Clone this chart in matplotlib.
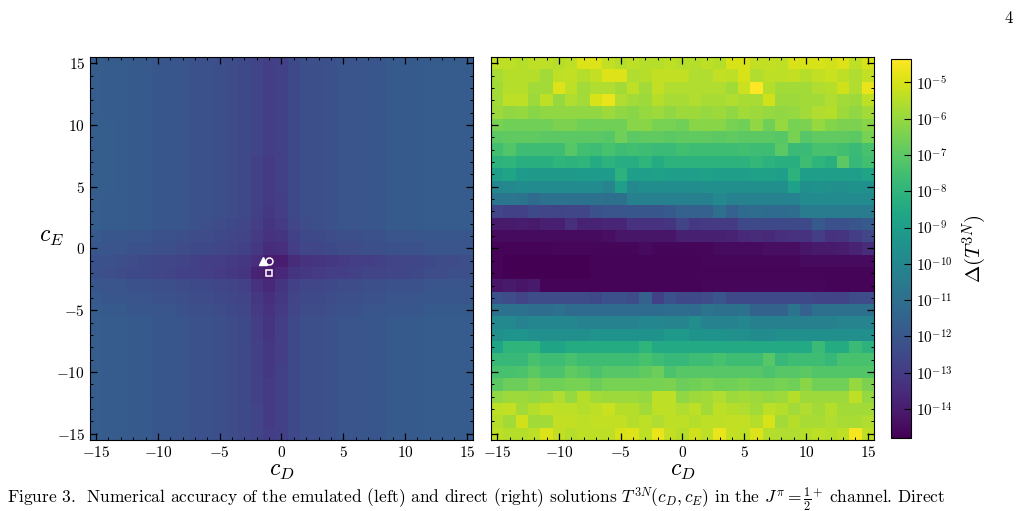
import numpy as np
import matplotlib
matplotlib.use("Agg")
import matplotlib.pyplot as plt
from matplotlib.colors import LogNorm
from matplotlib.ticker import MultipleLocator

plt.rcParams["font.family"] = "serif"
plt.rcParams["font.serif"] = ["cmr10", "DejaVu Serif"]
plt.rcParams["mathtext.fontset"] = "cm"
plt.rcParams["axes.formatter.use_mathtext"] = True

# grid of LEC values
c_D = list(range(-15, 16))
c_E = list(range(15, -16, -1))   # rows listed top-down

# log10 Delta(T^3N), emulated solutions (left), rows from c_E=15 to c_E=-15
left_log = [
    [-11.7,-11.8,-11.8,-11.9,-11.9,-12.0,-12.0,-12.1,-12.2,-12.2,-12.3,-12.4,-12.5,-12.7,-12.9,-12.8,-12.5,-12.3,-12.3,-12.2,-12.1,-12.1,-12.0,-12.0,-11.9,-11.9,-11.9,-11.8,-11.8,-11.8,-11.8],
    [-11.7,-11.8,-11.8,-11.9,-11.9,-12.0,-12.0,-12.1,-12.2,-12.2,-12.3,-12.4,-12.5,-12.7,-12.9,-12.8,-12.5,-12.3,-12.3,-12.2,-12.1,-12.1,-12.0,-12.0,-11.9,-11.9,-11.9,-11.8,-11.8,-11.8,-11.8],
    [-11.7,-11.8,-11.8,-11.9,-11.9,-12.0,-12.0,-12.1,-12.2,-12.2,-12.3,-12.4,-12.5,-12.7,-12.9,-12.8,-12.5,-12.3,-12.3,-12.2,-12.1,-12.1,-12.0,-12.0,-11.9,-11.9,-11.9,-11.8,-11.8,-11.8,-11.8],
    [-11.7,-11.8,-11.8,-11.9,-11.9,-12.0,-12.0,-12.1,-12.2,-12.2,-12.3,-12.4,-12.5,-12.7,-12.9,-12.8,-12.5,-12.3,-12.3,-12.2,-12.1,-12.1,-12.0,-12.0,-11.9,-11.9,-11.9,-11.8,-11.8,-11.8,-11.8],
    [-11.7,-11.8,-11.8,-11.9,-11.9,-12.0,-12.0,-12.1,-12.2,-12.2,-12.3,-12.4,-12.5,-12.7,-12.9,-12.8,-12.5,-12.3,-12.3,-12.2,-12.1,-12.1,-12.0,-12.0,-11.9,-11.9,-11.9,-11.8,-11.8,-11.8,-11.8],
    [-11.7,-11.7,-11.8,-11.9,-11.9,-12.0,-12.0,-12.1,-12.2,-12.2,-12.3,-12.4,-12.5,-12.7,-12.9,-12.8,-12.5,-12.3,-12.3,-12.2,-12.1,-12.1,-12.0,-12.0,-11.9,-11.9,-11.9,-11.8,-11.8,-11.8,-11.8],
    [-11.7,-11.7,-11.8,-11.9,-11.9,-12.0,-12.0,-12.1,-12.2,-12.2,-12.3,-12.4,-12.5,-12.7,-12.9,-12.8,-12.5,-12.3,-12.3,-12.2,-12.1,-12.1,-12.0,-12.0,-11.9,-11.9,-11.9,-11.8,-11.8,-11.8,-11.8],
    [-11.7,-11.7,-11.8,-11.9,-11.9,-12.0,-12.0,-12.1,-12.2,-12.2,-12.3,-12.4,-12.5,-12.7,-12.9,-12.8,-12.5,-12.3,-12.3,-12.2,-12.1,-12.1,-12.0,-12.0,-11.9,-11.9,-11.9,-11.8,-11.8,-11.8,-11.8],
    [-11.7,-11.7,-11.8,-11.9,-11.9,-12.0,-12.0,-12.1,-12.2,-12.2,-12.3,-12.4,-12.5,-12.8,-13.0,-12.8,-12.5,-12.3,-12.3,-12.2,-12.1,-12.1,-12.0,-12.0,-11.9,-11.9,-11.9,-11.8,-11.8,-11.8,-11.8],
    [-11.7,-11.7,-11.8,-11.9,-11.9,-12.0,-12.0,-12.1,-12.2,-12.2,-12.3,-12.4,-12.5,-12.8,-13.0,-12.8,-12.5,-12.3,-12.3,-12.2,-12.1,-12.1,-12.0,-12.0,-11.9,-11.9,-11.9,-11.8,-11.8,-11.8,-11.8],
    [-11.7,-11.7,-11.8,-11.9,-11.9,-12.0,-12.0,-12.1,-12.2,-12.2,-12.3,-12.4,-12.5,-12.8,-13.0,-12.8,-12.5,-12.3,-12.3,-12.2,-12.1,-12.1,-12.0,-12.0,-11.9,-11.9,-11.9,-11.8,-11.8,-11.8,-11.8],
    [-11.7,-11.8,-11.8,-11.9,-11.9,-12.0,-12.0,-12.1,-12.2,-12.2,-12.3,-12.4,-12.5,-12.8,-13.0,-12.9,-12.5,-12.3,-12.3,-12.2,-12.1,-12.1,-12.0,-12.0,-11.9,-11.9,-11.9,-11.8,-11.8,-11.8,-11.8],
    [-11.7,-11.8,-11.8,-11.9,-11.9,-12.0,-12.0,-12.1,-12.2,-12.2,-12.3,-12.4,-12.5,-12.8,-13.1,-12.9,-12.5,-12.3,-12.3,-12.2,-12.1,-12.1,-12.0,-12.0,-11.9,-11.9,-11.9,-11.8,-11.8,-11.8,-11.8],
    [-11.7,-11.8,-11.8,-11.9,-11.9,-12.0,-12.0,-12.1,-12.2,-12.3,-12.4,-12.5,-12.6,-12.9,-13.2,-13.0,-12.6,-12.4,-12.3,-12.2,-12.1,-12.1,-12.0,-12.0,-11.9,-11.9,-11.9,-11.8,-11.8,-11.8,-11.8],
    [-11.9,-12.0,-12.0,-12.1,-12.1,-12.2,-12.2,-12.3,-12.4,-12.4,-12.5,-12.6,-12.7,-13.0,-13.3,-13.2,-12.8,-12.5,-12.5,-12.4,-12.3,-12.3,-12.2,-12.2,-12.1,-12.1,-12.1,-12.0,-12.0,-12.0,-12.0],
    [-12.0,-12.1,-12.1,-12.2,-12.2,-12.3,-12.3,-12.4,-12.5,-12.5,-12.6,-12.7,-12.8,-13.1,-13.5,-13.4,-12.9,-12.6,-12.6,-12.5,-12.4,-12.4,-12.3,-12.3,-12.2,-12.2,-12.2,-12.1,-12.1,-12.1,-12.1],
    [-12.2,-12.2,-12.3,-12.4,-12.5,-12.6,-12.6,-12.7,-12.8,-12.9,-12.9,-13.0,-13.1,-13.4,-14.0,-14.0,-13.5,-13.3,-13.2,-13.1,-13.0,-12.9,-12.9,-12.8,-12.7,-12.6,-12.6,-12.5,-12.4,-12.4,-12.3],
    [-12.2,-12.3,-12.4,-12.5,-12.5,-12.6,-12.7,-12.8,-12.8,-12.9,-13.0,-13.1,-13.2,-13.8,-14.0,-13.6,-13.2,-13.1,-13.0,-12.9,-12.9,-12.8,-12.7,-12.7,-12.6,-12.6,-12.5,-12.4,-12.4,-12.3,-12.3],
    [-12.0,-12.1,-12.1,-12.2,-12.2,-12.3,-12.3,-12.4,-12.5,-12.5,-12.6,-12.7,-12.8,-13.3,-13.6,-13.2,-12.8,-12.6,-12.6,-12.5,-12.4,-12.4,-12.3,-12.3,-12.2,-12.2,-12.2,-12.1,-12.1,-12.1,-12.1],
    [-11.9,-12.0,-12.0,-12.1,-12.1,-12.2,-12.2,-12.3,-12.4,-12.4,-12.5,-12.6,-12.7,-13.1,-13.4,-13.1,-12.7,-12.5,-12.5,-12.4,-12.3,-12.3,-12.2,-12.2,-12.1,-12.1,-12.1,-12.0,-12.0,-12.0,-12.0],
    [-11.8,-11.9,-11.9,-12.0,-12.0,-12.1,-12.1,-12.2,-12.3,-12.3,-12.4,-12.5,-12.6,-13.0,-13.3,-13.0,-12.6,-12.4,-12.4,-12.3,-12.2,-12.2,-12.1,-12.1,-12.0,-12.0,-12.0,-11.9,-11.9,-11.9,-11.9],
    [-11.7,-11.8,-11.8,-11.9,-11.9,-12.0,-12.0,-12.1,-12.2,-12.2,-12.3,-12.4,-12.5,-12.9,-13.2,-12.9,-12.5,-12.3,-12.3,-12.2,-12.1,-12.1,-12.0,-12.0,-11.9,-11.9,-11.9,-11.8,-11.8,-11.8,-11.8],
    [-11.7,-11.8,-11.8,-11.9,-11.9,-12.0,-12.0,-12.1,-12.2,-12.2,-12.3,-12.4,-12.5,-12.9,-13.2,-12.9,-12.5,-12.3,-12.3,-12.2,-12.1,-12.1,-12.0,-12.0,-11.9,-11.9,-11.9,-11.8,-11.8,-11.8,-11.8],
    [-11.7,-11.8,-11.8,-11.9,-11.9,-12.0,-12.0,-12.1,-12.2,-12.2,-12.3,-12.4,-12.5,-12.8,-13.1,-12.9,-12.5,-12.3,-12.3,-12.2,-12.1,-12.1,-12.0,-12.0,-11.9,-11.9,-11.9,-11.8,-11.8,-11.8,-11.8],
    [-11.7,-11.8,-11.8,-11.9,-11.9,-12.0,-12.0,-12.1,-12.2,-12.2,-12.3,-12.4,-12.5,-12.8,-13.1,-12.9,-12.5,-12.3,-12.3,-12.2,-12.1,-12.1,-12.0,-12.0,-11.9,-11.9,-11.9,-11.8,-11.8,-11.8,-11.8],
    [-11.7,-11.8,-11.8,-11.9,-11.9,-12.0,-12.0,-12.1,-12.2,-12.2,-12.3,-12.4,-12.5,-12.8,-13.1,-12.8,-12.5,-12.3,-12.3,-12.2,-12.1,-12.1,-12.0,-12.0,-11.9,-11.9,-11.9,-11.8,-11.8,-11.8,-11.8],
    [-11.7,-11.8,-11.8,-11.9,-11.9,-12.0,-12.0,-12.1,-12.2,-12.2,-12.3,-12.4,-12.5,-12.8,-13.0,-12.8,-12.5,-12.3,-12.3,-12.2,-12.1,-12.1,-12.0,-12.0,-11.9,-11.9,-11.9,-11.8,-11.8,-11.8,-11.8],
    [-11.7,-11.8,-11.8,-11.9,-11.9,-12.0,-12.0,-12.1,-12.2,-12.2,-12.3,-12.4,-12.5,-12.8,-13.0,-12.8,-12.5,-12.3,-12.3,-12.2,-12.1,-12.1,-12.0,-12.0,-11.9,-11.9,-11.9,-11.8,-11.8,-11.8,-11.8],
    [-11.7,-11.8,-11.8,-11.9,-11.9,-12.0,-12.0,-12.1,-12.2,-12.2,-12.3,-12.4,-12.5,-12.7,-13.0,-12.8,-12.5,-12.3,-12.3,-12.2,-12.1,-12.1,-12.0,-12.0,-11.9,-11.9,-11.9,-11.8,-11.8,-11.8,-11.8],
    [-11.7,-11.8,-11.8,-11.9,-11.9,-12.0,-12.0,-12.1,-12.2,-12.2,-12.3,-12.4,-12.5,-12.7,-13.0,-12.8,-12.5,-12.3,-12.3,-12.2,-12.1,-12.1,-12.0,-12.0,-11.9,-11.9,-11.9,-11.8,-11.8,-11.8,-11.8],
    [-11.7,-11.8,-11.8,-11.9,-11.9,-12.0,-12.0,-12.1,-12.2,-12.2,-12.3,-12.4,-12.5,-12.7,-12.9,-12.8,-12.5,-12.3,-12.3,-12.2,-12.1,-12.1,-12.0,-12.0,-11.9,-11.9,-11.9,-11.8,-11.8,-11.8,-11.8],
]

# log10 Delta(T^3N), direct solutions (right), rows from c_E=15 to c_E=-15
right_log = [
    [-5.4,-5.4,-5.5,-5.4,-5.4,-5.5,-5.4,-4.9,-4.9,-5.3,-5.5,-5.4,-5.5,-5.5,-5.4,-5.5,-5.5,-5.4,-5.5,-5.0,-5.0,-5.3,-5.3,-5.4,-5.0,-5.0,-5.0,-5.1,-4.9,-5.4,-5.0],
    [-5.7,-5.5,-5.5,-5.5,-5.8,-5.4,-5.3,-5.5,-5.3,-4.9,-4.9,-5.6,-5.5,-5.3,-5.3,-5.3,-5.6,-5.6,-5.3,-5.4,-5.0,-5.6,-5.4,-5.4,-5.3,-5.5,-5.3,-5.2,-5.4,-5.6,-5.3],
    [-5.8,-5.5,-5.5,-5.8,-5.8,-4.9,-5.4,-5.8,-5.6,-5.6,-5.8,-5.4,-5.8,-5.3,-5.6,-5.6,-5.6,-5.6,-5.6,-5.8,-5.2,-4.35,-5.5,-5.8,-5.8,-5.8,-5.6,-5.5,-5.1,-5.6,-4.7],
    [-5.8,-5.4,-5.4,-5.9,-5.4,-6.0,-5.6,-5.8,-5.0,-4.7,-5.6,-5.8,-5.9,-5.5,-5.7,-5.7,-5.6,-5.7,-5.7,-5.6,-5.7,-5.7,-5.1,-5.9,-5.9,-5.8,-5.8,-5.6,-5.8,-5.9,-5.4],
    [-5.9,-6.1,-6.0,-6.2,-6.1,-6.1,-6.1,-6.1,-6.1,-5.9,-6.1,-6.2,-6.0,-5.9,-6.1,-5.9,-5.9,-6.0,-5.9,-6.1,-5.8,-5.9,-6.0,-6.1,-6.0,-5.8,-5.6,-5.5,-5.9,-6.1,-5.8],
    [-6.5,-6.6,-6.6,-6.6,-6.6,-6.4,-6.4,-6.6,-6.6,-6.6,-6.6,-6.2,-6.2,-6.5,-6.5,-6.6,-6.2,-6.2,-6.2,-6.5,-6.6,-6.1,-6.6,-6.0,-6.5,-6.4,-6.0,-6.3,-6.4,-6.4,-6.2],
    [-7.0,-6.9,-6.9,-6.9,-7.0,-7.0,-7.0,-7.0,-7.0,-7.1,-6.6,-7.0,-6.9,-6.9,-7.0,-6.9,-6.9,-6.9,-7.0,-6.9,-7.0,-7.0,-7.0,-7.1,-6.5,-7.1,-6.9,-6.9,-6.9,-7.0,-6.5],
    [-7.5,-7.2,-7.6,-7.6,-7.6,-7.6,-7.1,-7.5,-7.6,-7.4,-7.6,-7.5,-7.6,-7.7,-7.7,-7.5,-7.6,-7.6,-7.6,-7.6,-7.5,-7.6,-7.6,-7.0,-7.7,-7.7,-7.4,-7.4,-7.5,-7.7,-7.4],
    [-8.1,-8.0,-8.2,-8.2,-8.2,-8.0,-8.1,-8.0,-8.4,-8.1,-8.3,-8.3,-8.0,-8.4,-8.1,-8.1,-8.1,-8.1,-8.1,-8.1,-8.1,-7.9,-8.1,-8.2,-8.2,-7.6,-8.0,-8.2,-7.0,-7.8,-7.5],
    [-9.0,-8.7,-9.1,-9.2,-9.2,-9.2,-9.2,-9.1,-9.1,-9.1,-8.1,-9.0,-9.0,-8.8,-9.0,-9.0,-9.0,-8.8,-9.0,-9.0,-9.0,-8.8,-8.8,-9.0,-8.1,-9.0,-9.0,-9.0,-9.0,-9.0,-8.7],
    [-10.0,-9.9,-9.8,-9.8,-9.8,-9.8,-9.8,-9.8,-9.8,-10.1,-9.0,-9.9,-9.7,-9.7,-9.7,-9.7,-9.7,-9.6,-9.6,-9.6,-9.6,-9.6,-9.6,-9.6,-8.9,-9.6,-9.5,-9.6,-9.6,-9.5,-9.6],
    [-10.7,-10.7,-10.8,-11.2,-10.9,-10.9,-10.9,-10.9,-10.9,-11.0,-11.0,-10.3,-10.3,-10.3,-10.3,-10.3,-10.3,-10.3,-9.9,-10.2,-10.2,-10.2,-10.2,-10.2,-10.2,-9.8,-9.8,-9.8,-9.8,-9.8,-9.8],
    [-12.6,-12.8,-12.8,-12.5,-12.6,-12.7,-12.6,-12.6,-12.2,-12.1,-12.1,-12.0,-12.0,-12.0,-11.9,-11.6,-11.6,-11.6,-11.0,-11.6,-11.2,-11.1,-11.2,-11.2,-11.1,-10.5,-10.5,-10.5,-10.5,-10.5,-10.5],
    [-14.1,-14.1,-14.0,-14.1,-13.9,-13.9,-13.4,-13.8,-13.8,-13.7,-13.7,-13.3,-13.3,-13.3,-13.2,-12.7,-13.1,-13.0,-13.0,-13.0,-12.5,-12.5,-12.5,-12.5,-12.5,-12.5,-11.9,-12.2,-12.2,-12.0,-11.9],
    [-14.5,-14.5,-14.5,-14.5,-14.5,-14.5,-14.5,-14.5,-14.5,-14.4,-14.2,-14.2,-14.2,-14.2,-14.2,-13.9,-13.9,-13.9,-13.9,-13.8,-13.6,-13.5,-13.6,-13.4,-13.3,-13.3,-12.9,-13.3,-13.2,-12.9,-12.6],
    [-14.7,-14.7,-14.7,-14.7,-14.7,-14.6,-14.6,-14.6,-14.6,-14.6,-14.6,-14.6,-14.5,-14.6,-14.6,-14.6,-14.6,-14.6,-14.5,-14.5,-14.5,-14.5,-14.4,-14.4,-14.4,-14.2,-14.1,-14.1,-14.0,-13.8,-13.5],
    [-14.7,-14.8,-14.8,-14.8,-14.8,-14.8,-14.8,-14.8,-14.7,-14.7,-14.7,-14.7,-14.7,-14.7,-14.7,-14.7,-14.7,-14.6,-14.6,-14.6,-14.6,-14.6,-14.6,-14.6,-14.6,-14.5,-14.5,-14.5,-14.5,-14.5,-14.5],
    [-14.7,-14.8,-14.8,-14.8,-14.8,-14.8,-14.8,-14.8,-14.7,-14.7,-14.7,-14.7,-14.7,-14.7,-14.7,-14.7,-14.7,-14.7,-14.7,-14.7,-14.7,-14.7,-14.7,-14.7,-14.7,-14.7,-14.7,-14.7,-14.7,-14.7,-14.7],
    [-14.2,-14.1,-14.2,-14.1,-14.7,-14.7,-14.7,-14.7,-14.7,-14.7,-14.7,-14.7,-14.7,-14.7,-14.7,-14.7,-14.7,-14.6,-14.6,-14.6,-14.6,-14.6,-14.6,-14.6,-14.6,-14.6,-14.6,-14.7,-14.7,-14.7,-14.7],
    [-12.2,-12.4,-12.7,-12.4,-12.4,-12.4,-12.4,-12.4,-12.5,-12.2,-12.2,-12.4,-11.6,-12.8,-12.2,-12.5,-12.5,-12.4,-12.0,-12.5,-12.5,-12.5,-12.5,-12.5,-12.5,-12.5,-12.7,-12.7,-12.7,-12.4,-12.4],
    [-10.9,-10.9,-10.9,-11.1,-11.1,-10.9,-11.2,-11.2,-11.2,-11.2,-11.2,-11.2,-11.2,-11.2,-11.1,-11.1,-11.2,-10.8,-11.0,-11.0,-10.9,-11.5,-11.5,-11.5,-10.8,-11.6,-11.0,-11.0,-11.0,-11.0,-11.0],
    [-9.9,-9.9,-10.2,-10.0,-10.0,-10.0,-10.0,-10.2,-10.2,-10.2,-10.2,-10.2,-10.0,-10.0,-10.1,-10.1,-9.7,-10.2,-10.2,-10.2,-10.0,-10.3,-10.3,-10.3,-10.3,-10.3,-10.3,-10.3,-10.1,-10.1,-10.1],
    [-9.6,-9.4,-9.4,-9.6,-9.6,-9.6,-9.6,-9.6,-9.4,-9.5,-9.5,-9.5,-9.5,-9.5,-9.2,-9.2,-9.5,-9.5,-9.5,-9.6,-9.6,-9.8,-9.8,-9.6,-9.6,-9.6,-9.6,-9.6,-9.6,-9.6,-9.6],
    [-8.7,-8.0,-8.0,-8.0,-8.7,-8.7,-8.4,-8.4,-8.4,-8.4,-8.4,-8.4,-8.0,-8.5,-8.5,-8.5,-8.5,-8.5,-8.5,-8.5,-8.5,-8.5,-8.5,-8.5,-8.5,-8.5,-7.7,-8.4,-8.4,-7.7,-8.1],
    [-7.8,-7.8,-7.8,-7.4,-7.6,-7.6,-7.4,-7.6,-7.6,-7.6,-7.6,-7.6,-7.4,-7.6,-7.8,-7.8,-7.6,-7.6,-7.4,-7.6,-7.6,-7.6,-7.1,-7.8,-7.6,-7.6,-7.6,-7.8,-7.4,-7.4,-7.4],
    [-7.4,-7.4,-7.3,-7.0,-7.3,-7.3,-6.9,-7.1,-7.3,-7.1,-7.1,-7.1,-6.9,-6.7,-7.3,-7.1,-7.1,-7.1,-7.1,-7.1,-7.1,-7.1,-7.3,-7.1,-7.1,-7.0,-7.2,-7.2,-7.2,-7.2,-7.2],
    [-7.0,-6.7,-6.7,-6.4,-6.6,-6.6,-6.5,-6.5,-6.7,-6.5,-6.5,-6.5,-6.5,-6.5,-6.4,-6.7,-6.6,-6.5,-6.6,-6.6,-6.5,-6.6,-6.6,-6.5,-6.6,-6.2,-6.6,-6.6,-6.6,-6.0,-6.4],
    [-6.1,-5.9,-5.9,-6.0,-5.9,-5.6,-6.0,-5.5,-5.8,-5.9,-5.9,-5.9,-6.0,-5.4,-5.4,-6.1,-5.9,-5.8,-5.6,-5.9,-5.8,-5.9,-6.0,-5.9,-5.5,-5.9,-5.9,-5.9,-5.9,-5.4,-6.0],
    [-5.4,-5.3,-5.8,-5.5,-5.3,-5.4,-5.4,-5.5,-5.4,-5.2,-5.5,-5.5,-5.8,-5.4,-5.4,-5.6,-5.4,-5.8,-5.4,-5.5,-5.6,-5.8,-5.4,-5.5,-5.8,-5.6,-5.8,-5.5,-5.8,-5.8,-5.8],
    [-5.5,-5.8,-5.1,-5.8,-5.8,-5.3,-5.3,-5.4,-5.3,-5.3,-5.3,-5.5,-5.4,-5.6,-5.4,-5.4,-5.5,-5.4,-5.4,-5.3,-5.3,-5.5,-5.0,-5.8,-5.5,-5.7,-5.7,-5.6,-5.7,-5.7,-5.6],
    [-5.4,-5.5,-5.5,-5.4,-4.9,-5.3,-5.5,-5.4,-5.4,-5.4,-5.0,-4.9,-5.4,-4.7,-5.3,-5.5,-5.1,-5.4,-4.7,-5.3,-5.4,-4.9,-5.5,-5.6,-5.6,-5.5,-5.4,-5.5,-5.4,-4.5,-5.4],
]

# reference points marked on the emulator panel
tri_pt = (-1.5, -1)
circ_pt = (-1, -1)
sq_pt = (-1, -2)

# colorbar decades that carry a label
cbar_exps = [-5, -6, -7, -8, -9, -10, -11, -12, -13, -14]

left = 10.0 ** np.array(left_log)
right = 10.0 ** np.array(right_log)
norm = LogNorm(vmin=right.min(), vmax=right.max())

fig = plt.figure(figsize=(10.28, 5.11), dpi=100)
ax1 = fig.add_axes([0.0875, 0.139, 0.3726, 0.7495])
ax2 = fig.add_axes([0.4776, 0.139, 0.3726, 0.7495])
cax = fig.add_axes([0.8667, 0.143, 0.0192, 0.7417])

for ax, Z in [(ax1, left), (ax2, right)]:
    mesh = ax.pcolormesh(c_D, c_E, Z, norm=norm, cmap="viridis",
                         shading="nearest", edgecolors="face", linewidth=0)
    ax.set_xlim(-15.5, 15.5)
    ax.set_ylim(-15.5, 15.5)
    ax.xaxis.set_major_locator(MultipleLocator(5))
    ax.yaxis.set_major_locator(MultipleLocator(5))
    ax.xaxis.set_minor_locator(MultipleLocator(1))
    ax.yaxis.set_minor_locator(MultipleLocator(1))
    ax.tick_params(which="both", direction="in", top=True, right=True,
                   labelsize=11)
    ax.tick_params(which="major", length=5, width=0.9)
    ax.tick_params(which="minor", length=2.5, width=0.7)
    ax.set_xlabel("$c_D$", fontsize=17, labelpad=0)

ax2.tick_params(labelleft=False)
ax1.set_ylabel("$c_E$", fontsize=17, rotation=0)
ax1.yaxis.set_label_coords(-0.1, 0.5)

ax1.plot(*tri_pt, marker="^", color="white", markersize=5.5, ls="none")
ax1.plot(*circ_pt, marker="o", mfc="none", mec="white", mew=1.1,
         markersize=5, ls="none")
ax1.plot(*sq_pt, marker="s", mfc="none", mec="white", mew=1.1,
         markersize=5, ls="none")

cb = fig.colorbar(mesh, cax=cax)
cb.set_ticks([10.0 ** e for e in cbar_exps],
             labels=["$10^{%d}$" % e for e in cbar_exps])
cb.ax.tick_params(which="both", direction="in", labelsize=11)
cb.ax.tick_params(which="major", length=5)
cb.ax.tick_params(which="minor", length=2.5)
cb.set_label(r"$\Delta(T^{3N})$", fontsize=15, labelpad=6)

fig.text(0.985, 0.965, "4", fontsize=12, ha="right", va="center")
fig.text(0.007, 0.017,
         r"Figure 3.  Numerical accuracy of the emulated (left) and direct (right) solutions "
         r"$T^{3N}(c_D, c_E)$ in the $J^{\pi} = \frac{1}{2}^{+}$ channel. Direct",
         fontsize=12.5, ha="left", va="baseline")

fig.savefig("out.png", dpi=100)
